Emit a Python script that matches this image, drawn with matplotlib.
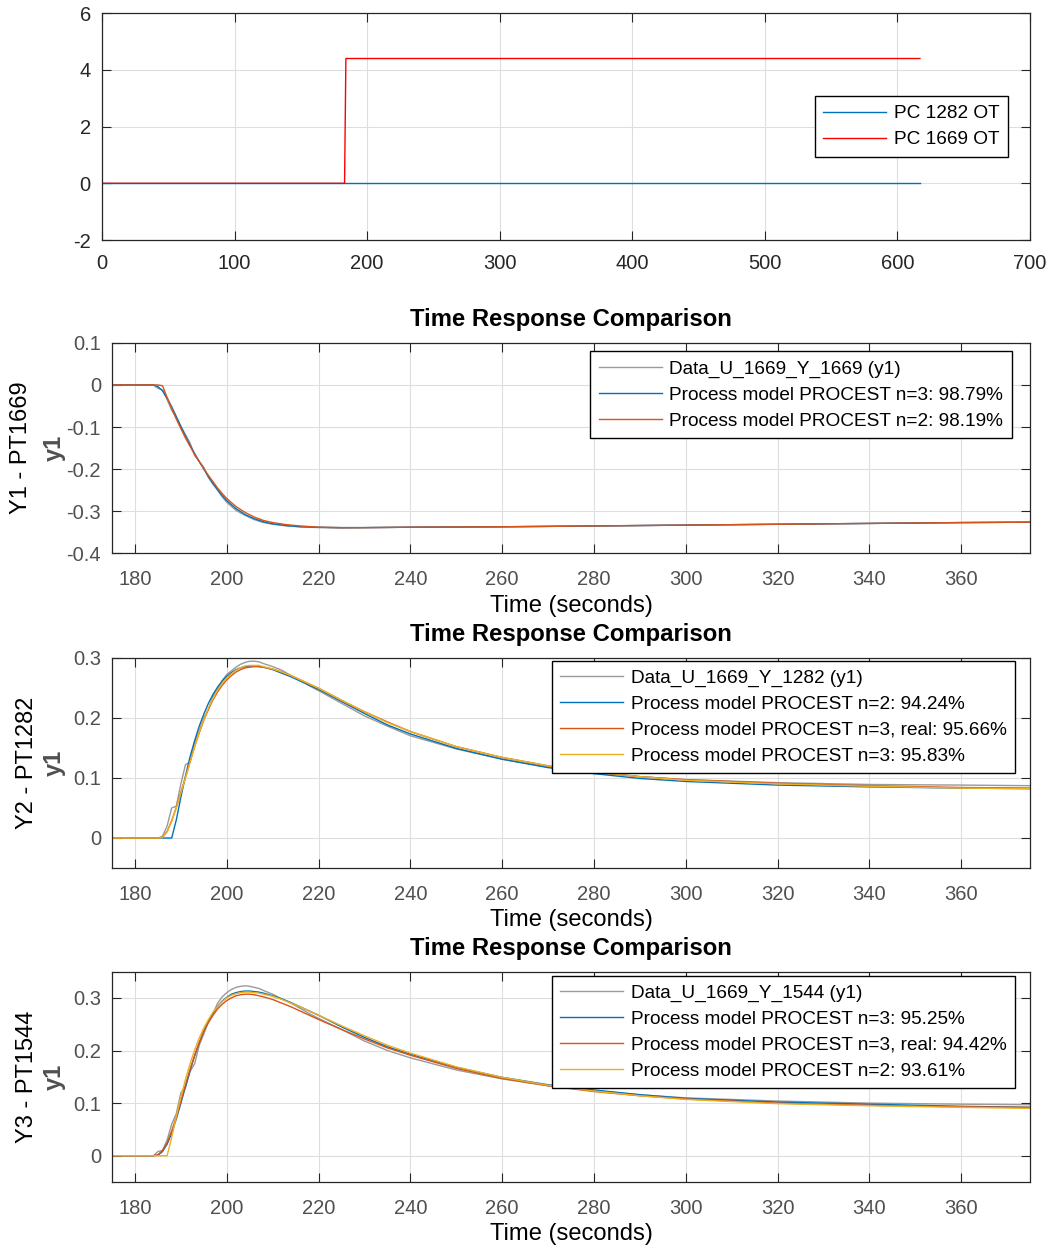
import matplotlib
matplotlib.use('Agg')
import matplotlib.pyplot as plt

plt.rcParams['font.family'] = ['Liberation Sans', 'DejaVu Sans']
plt.rcParams['axes.unicode_minus'] = False

# ---- 상단: 입력 신호 ----
t_ot_1282 = [0, 617]
pc_1282_ot = [0, 0]
t_ot_1669 = [0, 183, 184, 617]
pc_1669_ot = [0, 0, 4.4, 4.4]

# ---- Y1 - PT1669 ----
t_y1 = [175, 183, 184, 185, 186, 187, 188, 189, 190, 191, 192, 193, 194, 195, 196, 197,
        198, 199, 200, 202, 204, 206, 208, 210, 213, 216, 220, 225, 230, 240, 260, 280,
        300, 320, 340, 360, 375]
y1_data = [0, 0, 0, -0.008, -0.012, -0.035, -0.06, -0.078, -0.098, -0.118, -0.138, -0.168,
           -0.182, -0.196, -0.22, -0.236, -0.25, -0.266, -0.279, -0.298, -0.31, -0.32, -0.327,
           -0.331, -0.335, -0.337, -0.339, -0.34, -0.339, -0.338, -0.337, -0.335, -0.333,
           -0.331, -0.329, -0.327, -0.326]
y1_n3 = [0, 0, 0, -0.004, -0.014, -0.031, -0.052, -0.075, -0.099, -0.122, -0.143, -0.163,
         -0.182, -0.2, -0.218, -0.234, -0.249, -0.263, -0.275, -0.294, -0.308, -0.318, -0.325,
         -0.33, -0.334, -0.337, -0.338, -0.339, -0.339, -0.338, -0.337, -0.335, -0.333,
         -0.331, -0.329, -0.327, -0.326]
y1_n2 = [0, 0, 0, 0, -0.002, -0.03, -0.056, -0.081, -0.104, -0.126, -0.146, -0.165,
         -0.182, -0.199, -0.215, -0.23, -0.245, -0.258, -0.27, -0.289, -0.303, -0.314, -0.322,
         -0.327, -0.332, -0.335, -0.338, -0.339, -0.339, -0.338, -0.337, -0.335, -0.333,
         -0.331, -0.329, -0.327, -0.326]

# ---- Y2 - PT1282 ----
t_y2 = [175, 185, 186, 187, 188, 189, 190, 191, 192, 193, 194, 195, 196, 197, 198, 199,
        200, 201, 202, 203, 204, 205, 206, 207, 208, 210, 212, 214, 216, 218, 220, 225,
        230, 235, 240, 250, 260, 270, 280, 290, 300, 320, 340, 360, 375]
y2_data = [0, 0, 0.003, 0.02, 0.05, 0.053, 0.09, 0.122, 0.126, 0.16, 0.178, 0.2, 0.214,
           0.236, 0.248, 0.262, 0.272, 0.278, 0.284, 0.289, 0.292, 0.294, 0.294, 0.293,
           0.29, 0.285, 0.279, 0.27, 0.262, 0.253, 0.245, 0.224, 0.203, 0.186, 0.17, 0.148,
           0.131, 0.118, 0.109, 0.102, 0.097, 0.092, 0.089, 0.088, 0.087]
y2_n2 = [0, 0, 0, 0, 0, 0.03, 0.068, 0.103, 0.135, 0.162, 0.186, 0.206, 0.224, 0.239,
         0.251, 0.261, 0.269, 0.275, 0.28, 0.283, 0.285, 0.286, 0.286, 0.285, 0.284, 0.28,
         0.274, 0.268, 0.261, 0.254, 0.247, 0.227, 0.207, 0.188, 0.173, 0.149, 0.131,
         0.117, 0.107, 0.099, 0.094, 0.088, 0.085, 0.083, 0.082]
y2_n3_real = [0, 0, 0.001, 0.011, 0.029, 0.051, 0.076, 0.101, 0.127, 0.152, 0.175, 0.196,
              0.214, 0.23, 0.243, 0.254, 0.263, 0.27, 0.276, 0.28, 0.283, 0.284, 0.285,
              0.285, 0.284, 0.281, 0.276, 0.27, 0.263, 0.256, 0.249, 0.229, 0.21, 0.193,
              0.177, 0.152, 0.134, 0.12, 0.11, 0.102, 0.097, 0.091, 0.087, 0.084, 0.083]
y2_n3 = [0, 0, 0.001, 0.01, 0.028, 0.05, 0.075, 0.1, 0.126, 0.152, 0.176, 0.197, 0.216,
         0.232, 0.246, 0.257, 0.266, 0.273, 0.279, 0.283, 0.286, 0.287, 0.287, 0.287,
         0.285, 0.281, 0.276, 0.27, 0.263, 0.256, 0.249, 0.229, 0.21, 0.192, 0.177, 0.152,
         0.134, 0.12, 0.11, 0.102, 0.096, 0.09, 0.086, 0.083, 0.082]

# ---- Y3 - PT1544 ----
t_y3 = [175, 184, 185, 186, 187, 188, 189, 190, 191, 192, 193, 194, 195, 196, 197, 198,
        199, 200, 201, 202, 203, 204, 205, 206, 207, 208, 210, 212, 214, 216, 218, 220,
        225, 230, 235, 240, 250, 260, 270, 280, 290, 300, 320, 340, 360, 375]
y3_data = [0, 0, 0.008, 0.01, 0.03, 0.06, 0.08, 0.12, 0.13, 0.16, 0.175, 0.21, 0.232,
           0.255, 0.27, 0.29, 0.302, 0.31, 0.316, 0.32, 0.322, 0.323, 0.322, 0.32, 0.318,
           0.314, 0.307, 0.298, 0.29, 0.28, 0.27, 0.261, 0.24, 0.218, 0.2, 0.186, 0.163,
           0.146, 0.133, 0.124, 0.116, 0.11, 0.104, 0.1, 0.098, 0.097]
y3_n3 = [0, 0, 0.001, 0.008, 0.022, 0.043, 0.07, 0.1, 0.131, 0.162, 0.19, 0.215, 0.237,
         0.256, 0.271, 0.284, 0.294, 0.301, 0.307, 0.31, 0.312, 0.313, 0.313, 0.312, 0.311,
         0.309, 0.304, 0.298, 0.291, 0.283, 0.275, 0.267, 0.245, 0.225, 0.207, 0.193, 0.168,
         0.149, 0.135, 0.125, 0.116, 0.109, 0.102, 0.098, 0.094, 0.092]
y3_n3_real = [0, 0, 0.002, 0.01, 0.025, 0.047, 0.074, 0.104, 0.135, 0.164, 0.191, 0.215,
              0.236, 0.253, 0.267, 0.279, 0.288, 0.295, 0.3, 0.304, 0.306, 0.307, 0.307,
              0.306, 0.304, 0.302, 0.297, 0.29, 0.283, 0.275, 0.267, 0.259, 0.24, 0.222,
              0.205, 0.191, 0.166, 0.147, 0.133, 0.122, 0.114, 0.108, 0.1, 0.096, 0.093, 0.092]
y3_n2 = [0, 0, 0, 0, 0, 0.035, 0.075, 0.112, 0.145, 0.175, 0.201, 0.224, 0.243, 0.259,
         0.273, 0.284, 0.293, 0.3, 0.305, 0.308, 0.31, 0.311, 0.311, 0.31, 0.309, 0.307,
         0.303, 0.297, 0.29, 0.283, 0.275, 0.267, 0.247, 0.228, 0.21, 0.195, 0.169, 0.149,
         0.134, 0.123, 0.114, 0.107, 0.099, 0.095, 0.092, 0.09]

GRAY = '#9a9a9a'
BLUE = '#0072BD'
ORANGE = '#D95319'
YELLOW = '#EDB120'
AXC = '#262626'
TICKC = '#505050'


def style_axes(ax, tick_color):
    for s in ax.spines.values():
        s.set_color(AXC)
        s.set_linewidth(0.9)
    ax.tick_params(direction='in', length=6.5, width=0.8, color=AXC,
                   top=True, right=True, labelsize=14.5, labelcolor=tick_color)
    ax.tick_params(axis='x', pad=12)
    ax.tick_params(axis='y', pad=8)
    ax.grid(True, color='#dedede', linewidth=0.8)
    ax.set_axisbelow(True)


def add_legend(ax, anchor, loc):
    leg = ax.legend(loc=loc, bbox_to_anchor=anchor, borderaxespad=0, fontsize=13.7,
                    fancybox=False, framealpha=1, edgecolor='black', handlelength=3.3,
                    handletextpad=0.4, labelspacing=0.46, borderpad=0.45)
    leg.get_frame().set_linewidth(1.0)


fig = plt.figure(figsize=(10.51, 12.49), dpi=100)

# 상단 패널
ax0 = fig.add_axes([0.0970, 0.8078, 0.8830, 0.1817])
ax0.plot(t_ot_1282, pc_1282_ot, color=BLUE, lw=1.0, label='PC 1282 OT')
ax0.plot(t_ot_1669, pc_1669_ot, color='red', lw=1.0, label='PC 1669 OT')
ax0.set_xlim(0, 700)
ax0.set_ylim(-2, 6)
ax0.set_xticks(range(0, 701, 100))
ax0.set_yticks([-2, 0, 2, 4, 6])
style_axes(ax0, AXC)
ax0.tick_params(axis='x', pad=10)
add_legend(ax0, (0.976, 0.5), 'center right')

panels = [
    dict(bottom=0.5570, t=t_y1, data=y1_data, ylim=(-0.4, 0.1),
         yticks=[-0.4, -0.3, -0.2, -0.1, 0, 0.1],
         series=[(y1_n3, BLUE, 'Process model PROCEST n=3: 98.79%'),
                 (y1_n2, ORANGE, 'Process model PROCEST n=2: 98.19%')],
         data_label='Data_U_1669_Y_1669 (y1)', name='Y1 - PT1669', name_x=0.020,
         anchor=(0.980, 0.959)),
    dict(bottom=0.3050, t=t_y2, data=y2_data, ylim=(-0.05, 0.3),
         yticks=[0, 0.1, 0.2, 0.3],
         series=[(y2_n2, BLUE, 'Process model PROCEST n=2: 94.24%'),
                 (y2_n3_real, ORANGE, 'Process model PROCEST n=3, real: 95.66%'),
                 (y2_n3, YELLOW, 'Process model PROCEST n=3: 95.83%')],
         data_label='Data_U_1669_Y_1282 (y1)', name='Y2 - PT1282', name_x=0.026,
         anchor=(0.9837, 0.986)),
    dict(bottom=0.0536, t=t_y3, data=y3_data, ylim=(-0.05, 0.35),
         yticks=[0, 0.1, 0.2, 0.3],
         series=[(y3_n3, BLUE, 'Process model PROCEST n=3: 95.25%'),
                 (y3_n3_real, ORANGE, 'Process model PROCEST n=3, real: 94.42%'),
                 (y3_n2, YELLOW, 'Process model PROCEST n=2: 93.61%')],
         data_label='Data_U_1669_Y_1544 (y1)', name='Y3 - PT1544', name_x=0.026,
         anchor=(0.9837, 0.981)),
]

for p in panels:
    ax = fig.add_axes([0.1066, p['bottom'], 0.8735, 0.1685])
    ax.plot(p['t'], p['data'], color=GRAY, lw=1.0, label=p['data_label'])
    for vals, c, lab in p['series']:
        ax.plot(p['t'], vals, color=c, lw=1.0, label=lab)
    ax.set_xlim(175, 375)
    ax.set_ylim(*p['ylim'])
    ax.set_xticks(range(180, 361, 20))
    ax.set_yticks(p['yticks'])
    ax.set_yticklabels(['0' if v == 0 else f'{v:g}' for v in p['yticks']])
    style_axes(ax, TICKC)
    ax.set_title('Time Response Comparison', fontsize=17.2, fontweight='bold', pad=12)
    ax.set_xlabel('Time (seconds)', fontsize=17.1, labelpad=4)
    ax.set_ylabel('y1', fontsize=17, fontweight='bold', color=TICKC)
    ax.yaxis.set_label_coords(-0.05, 0.5)
    fig.text(p['name_x'], p['bottom'] + 0.0842, p['name'], rotation=90, fontsize=17,
             ha='center', va='center')
    add_legend(ax, p['anchor'], 'upper right')

fig.savefig('out.png', dpi=100)
